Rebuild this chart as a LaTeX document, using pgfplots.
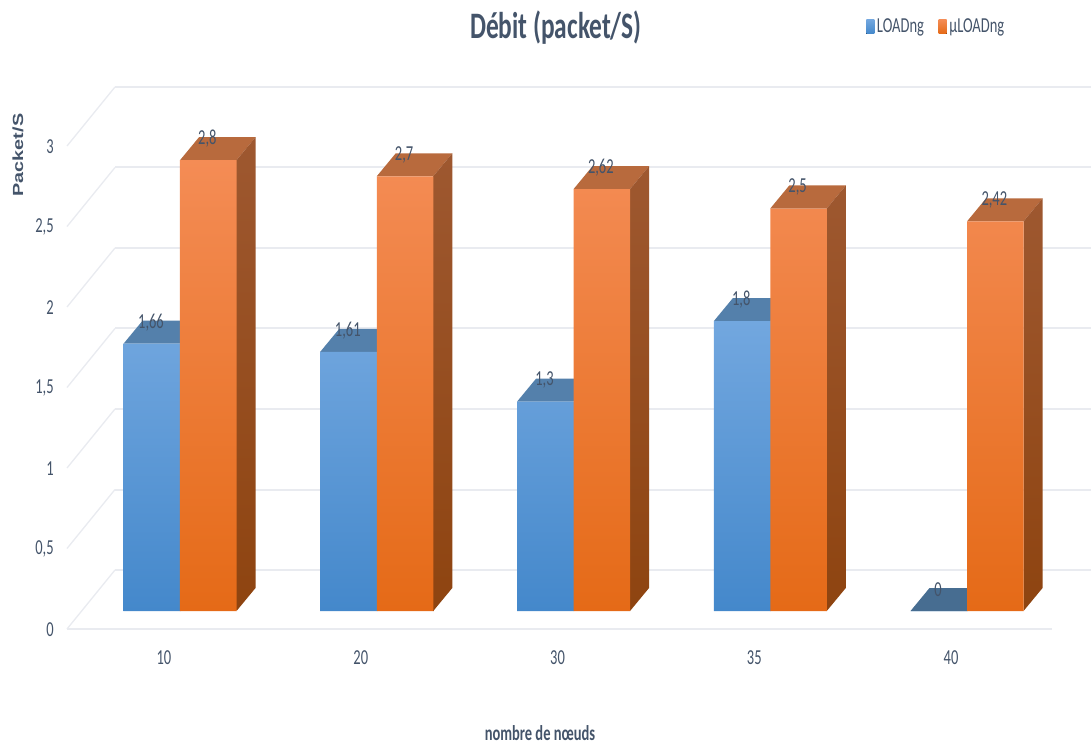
\documentclass[border=0pt]{standalone}
\usepackage{fontspec}
\usepackage{pgfplots}
\pgfplotsset{compat=1.18}
\setmainfont{Carlito}[FakeStretch=0.68]
\newfontfamily\titlefont{Carlito}[FakeStretch=0.68]
\newfontfamily\widefont{Liberation Sans}[FakeStretch=1.35]
\definecolor{slate}{HTML}{44546A}
\definecolor{gridc}{HTML}{E9EBF0}
\definecolor{bluetop}{HTML}{72A7DF}
\definecolor{bluemid}{HTML}{5B9DDC}
\definecolor{bluebot}{HTML}{4488CB}
\definecolor{bluecap}{HTML}{5480AB}
\definecolor{orgtop}{HTML}{F48C55}
\definecolor{orgmid}{HTML}{F97C28}
\definecolor{orgbot}{HTML}{E56A17}
\definecolor{orgcap}{HTML}{B86A3D}
\definecolor{orgsidetop}{HTML}{9E5830}
\definecolor{orgsidebot}{HTML}{8E4410}
\begin{document}
\begin{tikzpicture}
\useasboundingbox (0,0) rectangle (818.25pt,558pt);
\begin{axis}[
  at={(50.25pt,86.25pt)}, anchor=south west,
  scale only axis, width=768pt, height=406.5pt,
  xmin=-0.5743, xmax=4.6302,
  ymin=-0.1118, ymax=3.2547,
  clip=false,
  axis line style={draw=none},
  tick style={draw=none},
  xtick={0,1,2,3,4},
  xticklabels={10,20,30,35,40},
  ytick={0,0.5,1,1.5,2,2.5,3},
  /pgf/number format/assume math mode=true,
  /pgf/number format/use comma,
  /pgf/number format/precision=2,
  tick label style={font=\fontsize{16}{16}\selectfont, text=slate},
  xticklabel style={xshift=-12pt, yshift=-12.5pt},
  yticklabel style={xshift=-6.5pt, yshift=-14pt},
  title={\titlefont\bfseries Débit (packet/S)},
  title style={at={(axis description cs:0.4775,1.095)}, anchor=center, text=slate, font=\fontsize{28}{28}\selectfont},
  xlabel={\bfseries nombre de nœuds},
  xlabel style={at={(axis description cs:0.4619,-0.1919)}, anchor=center, text=slate, font=\fontsize{16}{16}\selectfont},
  ylabel={\widefont\bfseries Packet/S},
  ylabel style={at={(axis description cs:-0.0479,0.8745)}, anchor=center, rotate=0, text=slate, font=\fontsize{11}{11}\selectfont},
  legend columns=2,
  legend style={at={(axis description cs:0.7764,1.1107)}, anchor=west, draw=none, fill=none,
    font=\fontsize{16}{16}\selectfont, text=slate,
    /tikz/every even column/.append style={column sep=9pt}},
  legend image code/.code={\fill[#1] (0pt,-5pt) rectangle (6pt,5.5pt);},
  every node near coord/.append style={anchor=center, yshift=16pt, text=slate, font=\fontsize{16}{16}\selectfont},
]
% walls and floor
\addplot[gridc, line width=1.5pt, forget plot] coordinates {(-0.5743,-0.1118)(4.4320,-0.1118)};
\addplot[gridc, line width=1pt, forget plot] coordinates {(-0.5743,-0.1118)(-0.3304,0.2547)};
\addplot[gridc, line width=1.5pt, forget plot] coordinates {(-0.3304,0.2547)(4.6302,0.2547)};
\addplot[gridc, line width=1pt, forget plot] coordinates {(-0.5743,0.3882)(-0.3304,0.7547)};
\addplot[gridc, line width=1.5pt, forget plot] coordinates {(-0.3304,0.7547)(4.6302,0.7547)};
\addplot[gridc, line width=1pt, forget plot] coordinates {(-0.5743,0.8882)(-0.3304,1.2547)};
\addplot[gridc, line width=1.5pt, forget plot] coordinates {(-0.3304,1.2547)(4.6302,1.2547)};
\addplot[gridc, line width=1pt, forget plot] coordinates {(-0.5743,1.3882)(-0.3304,1.7547)};
\addplot[gridc, line width=1.5pt, forget plot] coordinates {(-0.3304,1.7547)(4.6302,1.7547)};
\addplot[gridc, line width=1pt, forget plot] coordinates {(-0.5743,1.8882)(-0.3304,2.2547)};
\addplot[gridc, line width=1.5pt, forget plot] coordinates {(-0.3304,2.2547)(4.6302,2.2547)};
\addplot[gridc, line width=1pt, forget plot] coordinates {(-0.5743,2.3882)(-0.3304,2.7547)};
\addplot[gridc, line width=1.5pt, forget plot] coordinates {(-0.3304,2.7547)(4.6302,2.7547)};
\addplot[gridc, line width=1pt, forget plot] coordinates {(-0.5743,2.8882)(-0.3304,3.2547)};
\addplot[gridc, line width=1.5pt, forget plot] coordinates {(-0.3304,3.2547)(4.6302,3.2547)};

% upper faces of the LOADng bars
\addplot[fill=bluecap, draw=none, forget plot] coordinates {(-0.2872,1.66)(0,1.66)(0.0966,1.8029)(-0.1906,1.8029)} --cycle;
\addplot[fill=bluecap, draw=none, forget plot] coordinates {(0.7128,1.61)(1,1.61)(1.0966,1.7529)(0.8094,1.7529)} --cycle;
\addplot[fill=bluecap, draw=none, forget plot] coordinates {(1.7128,1.3)(2,1.3)(2.0966,1.4429)(1.8094,1.4429)} --cycle;
\addplot[fill=bluecap, draw=none, forget plot] coordinates {(2.7128,1.8)(3,1.8)(3.0966,1.9429)(2.8094,1.9429)} --cycle;
\addplot[fill=bluecap!85!black, draw=none, forget plot] coordinates {(3.7128,0)(4,0)(4.0966,0.1429)(3.8094,0.1429)} --cycle;

% LOADng, slightly overlapped by the neighbouring bar to leave no seam
\addplot[ybar, bar width=0.29, bar shift=-0.1422, draw=none,
  top color=bluetop, middle color=bluemid, bottom color=bluebot,
  nodes near coords, every node near coord/.append style={xshift=-21.75pt}]
  coordinates {(0,1.66)(1,1.61)(2,1.3)(3,1.8)(4,0)};
\addlegendentry{LOADng}

% upper and side faces of the µLOADng bars
\addplot[fill=orgcap, draw=none, forget plot] coordinates {(0,2.8)(0.2872,2.8)(0.3838,2.9429)(0.0966,2.9429)} --cycle;
\addplot[fill=orgcap, draw=none, forget plot] coordinates {(1,2.7)(1.2872,2.7)(1.3838,2.8429)(1.0966,2.8429)} --cycle;
\addplot[fill=orgcap, draw=none, forget plot] coordinates {(2,2.62)(2.2872,2.62)(2.3838,2.7629)(2.0966,2.7629)} --cycle;
\addplot[fill=orgcap, draw=none, forget plot] coordinates {(3,2.5)(3.2872,2.5)(3.3838,2.6429)(3.0966,2.6429)} --cycle;
\addplot[fill=orgcap, draw=none, forget plot] coordinates {(4,2.42)(4.2872,2.42)(4.3838,2.5629)(4.0966,2.5629)} --cycle;
\addplot[top color=orgsidetop, bottom color=orgsidebot, draw=none, forget plot] coordinates {(0.2872,0)(0.2872,2.8)(0.3838,2.9429)(0.3838,0.1429)} --cycle;
\addplot[top color=orgsidetop, bottom color=orgsidebot, draw=none, forget plot] coordinates {(1.2872,0)(1.2872,2.7)(1.3838,2.8429)(1.3838,0.1429)} --cycle;
\addplot[top color=orgsidetop, bottom color=orgsidebot, draw=none, forget plot] coordinates {(2.2872,0)(2.2872,2.62)(2.3838,2.7629)(2.3838,0.1429)} --cycle;
\addplot[top color=orgsidetop, bottom color=orgsidebot, draw=none, forget plot] coordinates {(3.2872,0)(3.2872,2.5)(3.3838,2.6429)(3.3838,0.1429)} --cycle;
\addplot[top color=orgsidetop, bottom color=orgsidebot, draw=none, forget plot] coordinates {(4.2872,0)(4.2872,2.42)(4.3838,2.5629)(4.3838,0.1429)} --cycle;

% µLOADng
\addplot[ybar, bar width=0.2872, bar shift=0.1436, draw=none,
  top color=orgtop, middle color=orgmid, bottom color=orgbot,
  nodes near coords, every node near coord/.append style={xshift=20.5pt}]
  coordinates {(0,2.8)(1,2.7)(2,2.62)(3,2.5)(4,2.42)};
\addlegendentry{µLOADng}
\end{axis}
\end{tikzpicture}
\end{document}
